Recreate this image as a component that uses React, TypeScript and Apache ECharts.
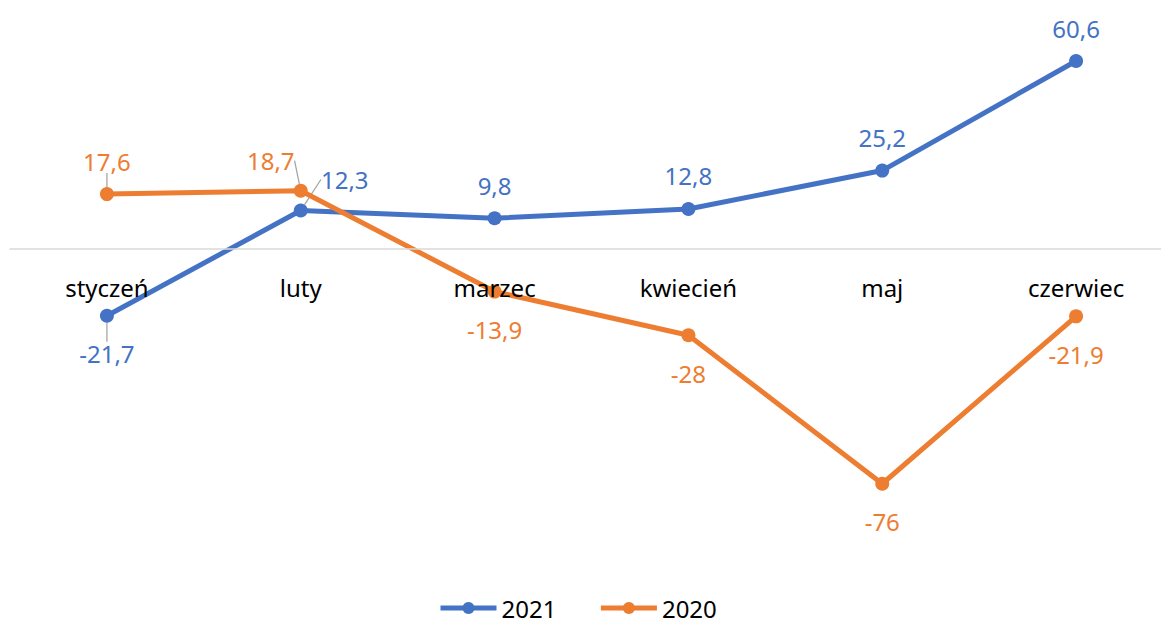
import React, { useEffect, useRef } from "react";
import * as echarts from "echarts";

const months = ["styczeń", "luty", "marzec", "kwiecień", "maj", "czerwiec"];
const values2021 = [-21.7, 12.3, 9.8, 12.8, 25.2, 60.6];
const values2020 = [17.6, 18.7, -13.9, -28, -76, -21.9];

const BLUE = "#4472C4";
const ORANGE = "#ED7D31";
const FONT = "'Noto Sans', 'Open Sans', sans-serif";

const fmt = (v: number) => String(v).replace(".", ",");

// label displacement per data point (dx, dy) relative to default position
const offs2021: [number, number][] = [[0, 0], [44, 2], [0, 0], [0, 0], [0, 0], [0, 0]];
const offs2020: [number, number][] = [[0, 0], [-30, 3], [0, 0], [0, 0], [0, 0], [0, 0]];
const pos2021 = ["bottom", "top", "top", "top", "top", "top"];
const pos2020 = ["top", "top", "bottom", "bottom", "bottom", "bottom"];
const leader2021 = [true, true, false, false, false, false];
const leader2020 = [true, true, false, false, false, false];

export default function App() {
  const ref = useRef<HTMLDivElement>(null);
  useEffect(() => {
    document.body.style.margin = "0";
    const chart = echarts.init(ref.current!, undefined, { renderer: "svg" });
    const mk = (vals: number[], pos: string[], leaders: boolean[]) =>
      vals.map((v, i) => ({
        value: v,
        label: { position: pos[i], distance: pos[i] === "top" ? 14 : 19 },
        labelLine: { show: leaders[i], lineStyle: { color: "#A6A6A6", width: 1.3 } },
      }));
    const labelStyle = (color: string) => ({
      show: true,
      color,
      fontSize: 24,
      fontFamily: FONT,
      formatter: (p: any) => fmt(p.value),
    });
    chart.setOption({
      animation: false,
      grid: { left: 10, right: 0, top: 1, bottom: 68, containLabel: false },
      legend: {
        left: 433,
        bottom: 1,
        itemWidth: 56,
        itemHeight: 15,
        itemGap: 42,
        lineStyle: { width: 5 },
        textStyle: { fontSize: 24, fontFamily: FONT, color: "#000" },
        data: ["2021", "2020"],
      },
      xAxis: {
        type: "category",
        data: months,
        boundaryGap: true,
        offset: -309.4,
        z: 10,
        axisLine: { show: true, onZero: false, lineStyle: { color: "#D9D9D9", width: 1.5 } },
        axisTick: { show: false },
        axisLabel: { margin: 27, fontSize: 24, fontFamily: FONT, color: "#000" },
      },
      yAxis: {
        type: "value",
        min: -100,
        max: 80,
        interval: 20,
        show: false,
        splitLine: { show: false },
      },
      labelLayout: (p: any) => {
        const offs = p.seriesIndex === 0 ? offs2021 : offs2020;
        const o = offs[p.dataIndex];
        return { dx: o[0], dy: o[1] };
      },
      series: [
        {
          name: "2021",
          type: "line",
          data: mk(values2021, pos2021, leader2021),
          color: BLUE,
          lineStyle: { width: 5, color: BLUE },
          symbol: "circle",
          symbolSize: 14,
          itemStyle: { color: BLUE },
          label: labelStyle(BLUE),
          z: 2,
        },
        {
          name: "2020",
          type: "line",
          data: mk(values2020, pos2020, leader2020),
          color: ORANGE,
          lineStyle: { width: 5, color: ORANGE },
          symbol: "circle",
          symbolSize: 14,
          itemStyle: { color: ORANGE },
          label: labelStyle(ORANGE),
          z: 3,
        },
      ],
    });
    return () => chart.dispose();
  }, []);
  return (
    <div style={{ width: 1161, height: 626, overflow: "hidden" }}>
      <div ref={ref} style={{ width: 1173, height: 626 }} />
    </div>
  );
}
